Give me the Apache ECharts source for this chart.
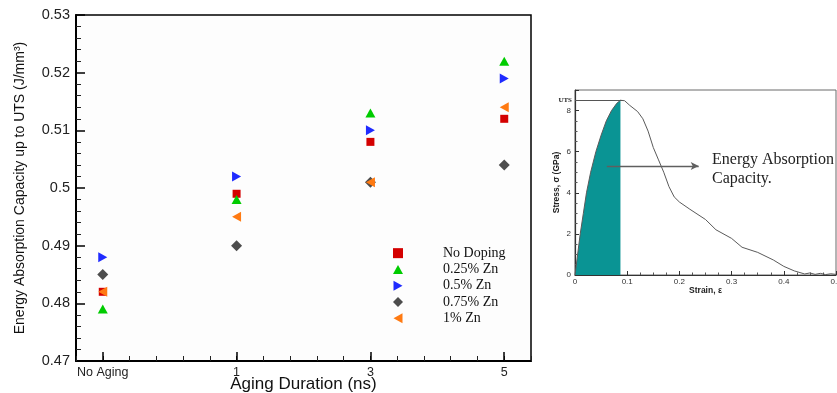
<!DOCTYPE html>
<html>
<head>
<meta charset="utf-8">
<script src="https://cdn.jsdelivr.net/npm/echarts@6/dist/echarts.min.js"></script>
<style>
  html, body { margin: 0; padding: 0; background: #ffffff; }
  #chart { width: 837px; height: 393px; }
</style>
</head>
<body>
<div id="chart"></div>
<script>
// Aging durations (category positions 0..3 on the x axis)
const agingLabels = ['No Aging', '1', '3', '5'];
const agingPositions = [0, 1, 2, 3];

// Energy absorption capacity up to UTS (J/mm³) per doping level
const noDoping   = [0.482, 0.499, 0.508, 0.512];
const zn025      = [0.479, 0.498, 0.513, 0.522];
const zn050      = [0.488, 0.502, 0.510, 0.519];
const zn075      = [0.485, 0.490, 0.501, 0.504];
const zn100      = [0.482, 0.495, 0.501, 0.514];

const seriesNames = ['No Doping', '0.25% Zn', '0.5% Zn', '0.75% Zn', '1% Zn'];

// Y ticks of the main plot
const yTicksMain = [0.47, 0.48, 0.49, 0.5, 0.51, 0.52, 0.53];

// Stress–strain curve for the schematic panel
const strain = [0, 0.005, 0.01, 0.016, 0.022, 0.03, 0.04, 0.05, 0.06, 0.07, 0.08, 0.087,
                0.095, 0.105, 0.12, 0.13, 0.14, 0.15, 0.16, 0.17, 0.18, 0.19, 0.2, 0.22,
                0.25, 0.27, 0.3, 0.32, 0.35, 0.38, 0.4, 0.42, 0.44, 0.45, 0.46, 0.47,
                0.48, 0.49, 0.5];
const stress = [0, 1.0, 2.0, 3.0, 4.0, 5.0, 6.0, 6.8, 7.5, 8.0, 8.35, 8.5,
                8.48, 8.25, 7.95, 7.6, 7.0, 6.2, 5.6, 5.0, 4.3, 3.8, 3.55, 3.2,
                2.7, 2.2, 1.78, 1.35, 1.1, 0.73, 0.42, 0.2, 0.05, 0.1, 0.03, 0.08,
                0.02, 0.06, 0.03];
const utsStrain = 0.087;
const utsStress = 8.5;

const pairs = (xs, ys) => xs.map((x, i) => [x, ys[i]]);
const curve = pairs(strain, stress);
const upToUts = curve.filter(p => p[0] <= utsStrain);

const sans = 'Liberation Sans';
const serif = 'Liberation Serif';

// Marker shapes as paths so they keep their proportions in the legend too
const markerStyles = [
  { symbol: 'path://M0,0H10V10H0Z', size: 8, color: '#d40000' },
  { symbol: 'path://M5,0L10,9L0,9Z', size: 10, color: '#00cc00' },
  { symbol: 'path://M0,0L9,5L0,10Z', size: 10, color: '#1f2bff' },
  { symbol: 'path://M5,0L10,5L5,10L0,5Z', size: 11, color: '#4d4d4d' },
  { symbol: 'path://M9,0L0,5L9,10Z', size: 10, color: '#ff7a12' }
];
const dataSets = [noDoping, zn025, zn050, zn075, zn100];

const scatterSeries = dataSets.map((vals, i) => ({
  name: seriesNames[i],
  type: 'scatter',
  xAxisIndex: 0,
  yAxisIndex: 0,
  symbol: markerStyles[i].symbol,
  symbolSize: markerStyles[i].size,
  symbolKeepAspect: true,
  itemStyle: { color: markerStyles[i].color, opacity: 1 },
  emphasis: { disabled: true },
  data: pairs(agingPositions, vals),
  z: 3 + i
}));

const chart = echarts.init(document.getElementById('chart'), null, { renderer: 'canvas' });

chart.setOption({
  backgroundColor: '#ffffff',
  animation: false,
  grid: [
    { left: 76, top: 15, width: 455, height: 346, outerBoundsMode: 'none', containLabel: false,
      show: true, borderColor: '#000', borderWidth: 1.5, backgroundColor: '#fdfdfd' },
    { left: 575, top: 90, width: 261, height: 185, outerBoundsMode: 'none', containLabel: false,
      show: true, borderColor: '#6a6a6a', borderWidth: 1, backgroundColor: '#ffffff' }
  ],
  legend: {
    orient: 'vertical',
    left: 388,
    top: 240,
    itemWidth: 10,
    itemHeight: 10,
    itemGap: 0,
    data: seriesNames,
    textStyle: { fontFamily: serif, fontSize: 14, color: '#111', lineHeight: 16.3, padding: [0, 0, 0, 35] },
    selectedMode: false
  },
  xAxis: [
    { // minor ticks of the aging axis
      gridIndex: 0, type: 'value', min: -0.2, max: 3.2, interval: 0.2,
      axisLine: { show: true, onZero: false, lineStyle: { color: '#000', width: 2 } },
      axisTick: { show: true, inside: true, length: 5, lineStyle: { color: '#222', width: 1 } },
      axisLabel: { show: false },
      splitLine: { show: false }
    },
    { // major ticks and labels of the aging axis
      gridIndex: 0, type: 'value', min: -0.2, max: 3.2, position: 'bottom',
      name: 'Aging Duration (ns)', nameLocation: 'middle', nameGap: 15, nameMoveOverlap: false,
      nameTextStyle: { fontFamily: sans, fontSize: 17, color: '#111' },
      axisLine: { show: false, onZero: false },
      axisTick: { show: true, inside: true, length: 9, customValues: agingPositions, lineStyle: { color: '#000', width: 1.5 } },
      axisLabel: {
        show: true, customValues: agingPositions, margin: 5,
        fontFamily: sans, fontSize: 12.5, color: '#222',
        formatter: v => agingLabels[Math.round(v)]
      },
      splitLine: { show: false }
    },
    { // strain axis of the schematic panel
      gridIndex: 1, type: 'value', min: 0, max: 0.5, interval: 0.1,
      name: 'Strain, ε', nameLocation: 'middle', nameGap: 11, nameMoveOverlap: false,
      nameTextStyle: { fontFamily: sans, fontSize: 8.5, fontWeight: 'bold', color: '#222' },
      axisLine: { show: true, onZero: false, lineStyle: { color: '#333', width: 1.2 } },
      axisTick: { show: true, inside: true, length: 4, lineStyle: { color: '#333' } },
      minorTick: { show: true, splitNumber: 4, length: 2.5, lineStyle: { color: '#555' } },
      axisLabel: { fontFamily: sans, fontSize: 8, color: '#333', margin: 3 },
      splitLine: { show: false }
    }
  ],
  yAxis: [
    {
      gridIndex: 0, type: 'value', min: yTicksMain[0], max: yTicksMain[yTicksMain.length - 1], interval: 0.01,
      name: 'Energy Absorption Capacity up to UTS (J/mm³)', nameLocation: 'middle', nameGap: 49, nameMoveOverlap: false,
      nameTextStyle: { fontFamily: sans, fontSize: 14, color: '#111' },
      axisLine: { show: true, onZero: false, lineStyle: { color: '#000', width: 2 } },
      axisTick: { show: true, inside: true, length: 9, lineStyle: { color: '#000', width: 1.5 } },
      minorTick: { show: true, splitNumber: 5, length: 5, lineStyle: { color: '#222', width: 1 } },
      axisLabel: { fontFamily: sans, fontSize: 14.5, color: '#222', margin: 6 },
      splitLine: { show: false }
    },
    { // stress axis of the schematic panel
      gridIndex: 1, type: 'value', min: 0, max: 9, interval: 2,
      name: 'Stress, σ (GPa)', nameLocation: 'middle', nameGap: 14, nameMoveOverlap: false,
      nameTextStyle: { fontFamily: sans, fontSize: 8.5, fontWeight: 'bold', color: '#222' },
      axisLine: { show: true, onZero: false, lineStyle: { color: '#333', width: 1.2 } },
      axisTick: { show: true, inside: true, length: 4, lineStyle: { color: '#333' } },
      minorTick: { show: true, splitNumber: 4, length: 2.5, lineStyle: { color: '#555' } },
      axisLabel: { fontFamily: sans, fontSize: 8, color: '#333', margin: 4, showMaxLabel: false },
      splitLine: { show: false }
    }
  ],
  series: scatterSeries.concat([
    { // shaded energy absorbed up to UTS
      type: 'line', xAxisIndex: 2, yAxisIndex: 1,
      data: upToUts, showSymbol: false, silent: true,
      lineStyle: { width: 0 },
      areaStyle: { color: '#0a9494', opacity: 1 },
      z: 1
    },
    { // full stress–strain response
      type: 'line', xAxisIndex: 2, yAxisIndex: 1,
      data: curve, showSymbol: false, silent: true,
      lineStyle: { color: '#5a5a5a', width: 1 },
      z: 4,
      markLine: {
        silent: true,
        z: 6,
        symbol: ['none', 'none'],
        data: [
          [
            { coord: [0, utsStress], lineStyle: { color: '#555', width: 1, type: 'solid' },
              label: { show: true, position: 'start', formatter: 'UTS', fontFamily: serif, fontSize: 7, fontWeight: 'bold', color: '#222', distance: 3 } },
            { coord: [utsStrain + 0.005, utsStress] }
          ],
          [
            { coord: [0.061, 5.3], symbol: 'none', lineStyle: { color: '#5f5f5f', width: 1.3, type: 'solid' }, label: { show: false } },
            { coord: [0.237, 5.3], symbol: 'arrow', symbolSize: [6, 8] }
          ]
        ]
      }
    }
  ]),
  graphic: [
    {
      type: 'text', left: 712, top: 150,
      style: {
        text: 'Energy Absorption\nCapacity.',
        font: '16px "Liberation Serif"',
        lineHeight: 19,
        fill: '#222'
      }
    }
  ]
});
</script>
</body>
</html>
